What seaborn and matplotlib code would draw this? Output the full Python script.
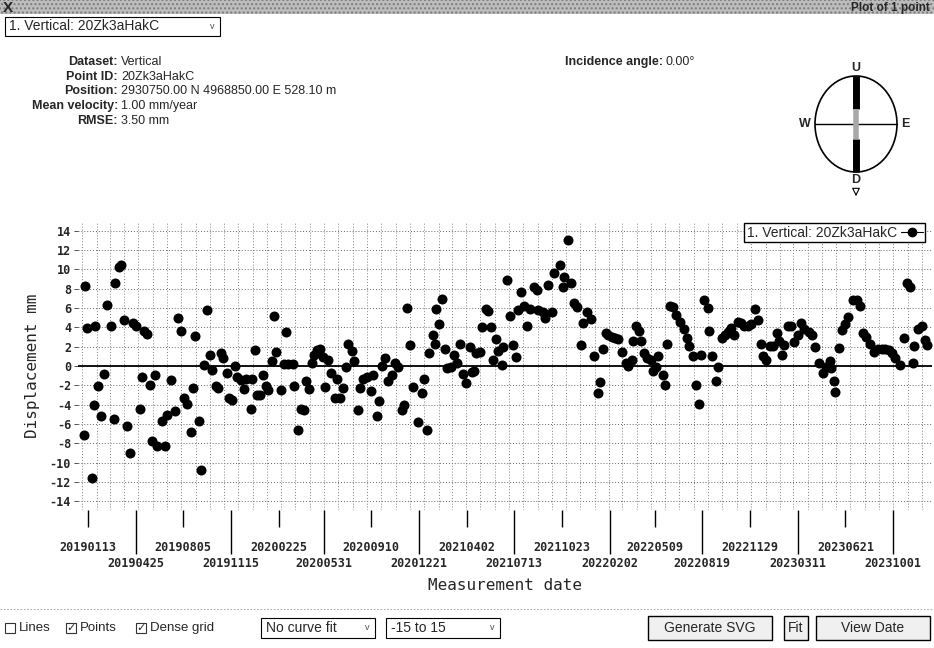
import pandas as pd
import matplotlib
matplotlib.use("Agg")
import matplotlib.pyplot as plt
from matplotlib.lines import Line2D
from matplotlib.patches import Rectangle, Ellipse
import seaborn as sns

# --- Data ---
BASE_DATE = "2019-01-13"
# acquisition dates as day offsets from BASE_DATE
day_offsets = [
    -9, -5, -2, 8, 13, 15, 22, 28, 34, 41,
    49, 56, 59, 67, 70, 78, 84, 91, 97, 103,
    111, 115, 120, 127, 134, 138, 143, 148, 158, 166,
    170, 177, 186, 192, 199, 206, 213, 220, 224, 230,
    237, 242, 248, 254, 261, 266, 274, 279, 284, 289,
    297, 302, 309, 314, 320, 327, 334, 339, 348, 351,
    357, 362, 369, 375, 382, 386, 393, 398, 402, 413,
    419, 424, 428, 438, 441, 450, 456, 462, 466, 473,
    479, 483, 489, 497, 503, 508, 514, 521, 528, 532,
    539, 546, 552, 557, 564, 570, 577, 582, 588, 596,
    605, 610, 618, 623, 630, 635, 642, 650, 657, 664,
    671, 677, 682, 689, 696, 705, 714, 719, 726, 730,
    737, 742, 745, 751, 757, 764, 769, 776, 784, 789,
    796, 803, 808, 817, 821, 826, 831, 838, 842, 851,
    855, 862, 867, 872, 878, 885, 888, 896, 903, 910,
    915, 920, 926, 933, 938, 945, 955, 960, 963, 973,
    978, 985, 993, 997, 1010, 1015, 1019, 1026, 1033, 1039,
    1045, 1054, 1058, 1067, 1075, 1082, 1090, 1095, 1101, 1108,
    1113, 1120, 1127, 1134, 1143, 1151, 1156, 1163, 1166, 1172,
    1179, 1183, 1189, 1196, 1204, 1209, 1215, 1220, 1229, 1234,
    1239, 1245, 1252, 1258, 1266, 1275, 1281, 1286, 1293, 1300,
    1306, 1311, 1318, 1326, 1329, 1334, 1343, 1348, 1355, 1362,
    1368, 1375, 1382, 1390, 1397, 1404, 1411, 1418, 1427, 1432,
    1440, 1444, 1450, 1459, 1466, 1473, 1477, 1484, 1489, 1497,
    1503, 1511, 1518, 1525, 1532, 1541, 1548, 1555, 1564, 1571,
    1579, 1586, 1590, 1595, 1598, 1607, 1613, 1618, 1626, 1636,
    1644, 1650, 1658, 1664, 1673, 1681, 1690, 1698, 1705, 1712,
    1719, 1726, 1737, 1745, 1752, 1757, 1764, 1767, 1776, 1783,
    1790, 1795,
]
displacement_mm = [
    -7.1, 8.3, 3.9, -11.6, -4.0, 4.1, -2.1, -5.2, -0.8, 6.3,
    4.1, -5.5, 8.6, 10.2, 10.4, 4.8, -6.2, -9.0, 4.5, 4.1,
    -4.5, -1.1, 3.6, 3.3, -2.0, -7.8, -0.9, -8.3, -5.7, -8.3,
    -5.1, -1.5, -4.7, 5.0, 3.6, -3.3, -3.9, -6.8, -2.3, 3.1,
    -5.7, -10.8, 0.1, 5.8, 1.1, -0.4, -2.1, -2.3, 1.3, 0.8,
    -0.7, -3.3, -3.5, 0.0, -1.1, -1.5, -2.4, -1.3, -4.4, -1.3,
    1.7, -3.0, -3.0, -0.9, -2.1, -2.5, 0.5, 5.2, 1.4, -2.5,
    0.2, 3.5, 0.2, 0.2, -2.1, -6.6, -4.5, -4.6, -1.6, -2.4,
    0.3, 1.1, 1.7, 1.8, 0.9, -2.2, 0.6, -0.7, -3.3, -1.3,
    -3.3, -2.3, -0.1, 2.3, 1.6, 0.5, -4.6, -2.3, -1.3, -1.1,
    -2.6, -0.9, -5.2, -3.6, 0.0, 0.8, -1.6, -0.9, 0.3, -0.1,
    -4.6, -4.0, 6.0, 2.2, -2.2, -5.8, -2.8, -1.3, -6.6, 1.3,
    3.2, 2.3, 5.9, 4.3, 6.9, 1.8, -0.2, -0.1, 1.1, 0.3,
    2.3, -0.8, -1.8, 2.0, -0.6, -0.5, 1.3, 1.5, 4.0, 5.9,
    5.7, 4.0, 0.6, 2.8, 1.6, 0.1, 2.0, 8.9, 5.2, 2.2,
    0.9, 5.8, 7.7, 6.2, 4.1, 5.9, 8.2, 7.9, 5.8, 5.6,
    5.0, 8.4, 5.6, 9.6, 10.5, 8.2, 9.2, 13.0, 8.6, 6.5,
    6.1, 2.2, 4.4, 5.6, 4.9, 1.0, -2.8, -1.7, 1.8, 3.4,
    3.2, 3.0, 2.9, 2.8, 1.4, 0.3, 0.0, 0.6, 2.6, 4.1,
    3.6, 2.6, 1.3, 0.8, 0.6, -0.5, -0.1, 1.0, -0.9, -2.0,
    2.3, 6.2, 6.1, 5.3, 4.6, 3.8, 2.9, 2.1, 1.0, -2.0,
    -3.9, 1.1, 6.8, 6.0, 3.6, 1.0, -1.6, -0.1, 2.9, 3.2,
    3.5, 3.9, 3.2, 4.6, 4.5, 4.1, 4.1, 4.3, 5.9, 4.8,
    2.3, 1.0, 0.6, 2.1, 2.1, 3.4, 2.6, 1.1, 2.2, 4.1,
    4.1, 2.5, 3.2, 4.4, 3.8, 3.5, 3.2, 2.0, 0.3, -0.7,
    -0.1, 0.5, -0.2, -1.6, -2.7, 1.9, 3.7, 4.3, 5.1, 6.8,
    6.8, 6.2, 3.4, 3.0, 2.3, 1.5, 1.8, 1.8, 1.8, 1.7,
    1.3, 0.8, 0.1, 2.9, 8.6, 8.2, 0.3, 2.1, 3.8, 4.1,
    2.7, 2.2,
]
tick_dates = [
    "20190113", "20190425", "20190805", "20191115", "20200225", "20200531",
    "20200910", "20201221", "20210402", "20210713", "20211023", "20220202",
    "20220509", "20220819", "20221129", "20230311", "20230621", "20231001",
]
ytick_values = list(range(-14, 15, 2))

series_label = "1. Vertical: 20Zk3aHakC"
info_labels = ["Dataset:", "Point ID:", "Position:", "Mean velocity:", "RMSE:"]
info_values = ["Vertical", "20Zk3aHakC", "2930750.00 N 4968850.00 E 528.10 m",
               "1.00 mm/year", "3.50 mm"]

# --- Style ---
sns.set_theme(style="white")
plt.rcParams["font.family"] = ["Liberation Sans", "DejaVu Sans"]
MONO = "DejaVu Sans Mono"

df = pd.DataFrame({
    "date": pd.Timestamp(BASE_DATE) + pd.to_timedelta(day_offsets, unit="D"),
    "disp": displacement_mm,
})
ticks = pd.to_datetime(tick_dates, format="%Y%m%d")

W, H = 934, 648
fig = plt.figure(figsize=(W / 100, H / 100), dpi=100)

# overlay in pixel coordinates for the surrounding UI
ui = fig.add_axes([0, 0, 1, 1])
ui.set_xlim(0, W)
ui.set_ylim(H, 0)
ui.axis("off")

# --- Main plot ---
ax = fig.add_axes([78 / W, 1 - 510 / H, (932 - 78) / W, (510 - 222) / H])
sns.scatterplot(data=df, x="date", y="disp", color="black", s=52,
                linewidth=0, ax=ax, legend=False, zorder=3)

base = pd.Timestamp(BASE_DATE)
x_lo, x_hi = base - pd.Timedelta(days=21), base + pd.Timedelta(days=1805)
ax.set_xlim(x_lo, x_hi)
ax.set_ylim(-14.9, 14.9)

# dense dotted grid
for y in ytick_values:
    ax.axhline(y, color="0.4", lw=0.7, ls=(0, (1, 2)), zorder=1)
for d in pd.date_range(x_lo, x_hi, freq="MS"):
    ax.axvline(d, color="0.5", lw=0.7, ls=(0, (1, 2)), zorder=1)
ax.axhline(0, color="black", lw=1.3, zorder=2)

for s in ax.spines.values():
    s.set_visible(False)

ax.set_yticks(ytick_values)
ax.set_yticklabels([str(v) for v in ytick_values], fontfamily=MONO,
                   fontweight="bold", fontsize=8.5)
ax.tick_params(axis="y", left=True, length=3, width=0.7, pad=2, color="0.3")

ax.set_xticks(ticks[::2])
ax.set_xticklabels(tick_dates[::2], fontfamily=MONO, fontweight="bold", fontsize=8.5)
ax.set_xticks(ticks[1::2], minor=True)
ax.set_xticklabels(tick_dates[1::2], minor=True, fontfamily=MONO,
                   fontweight="bold", fontsize=8.5)
ax.tick_params(axis="x", which="major", bottom=True, length=12, width=1,
               pad=10, color="black", direction="out")
ax.tick_params(axis="x", which="minor", bottom=True, length=32, width=1,
               pad=2, color="black", direction="out")

ax.set_xlabel("Measurement date", fontfamily=MONO, fontsize=11.5)
ax.xaxis.set_label_coords(0.5, -0.235)
ax.set_ylabel("Displacement mm", fontfamily=MONO, fontsize=11.5)
ax.yaxis.set_label_coords(-0.045, 0.5)

handle = Line2D([], [], color="black", marker="o", markersize=6, lw=0.8)
leg = ax.legend([handle], [series_label], loc="upper right",
                bbox_to_anchor=(0.992, 0.995), markerfirst=False, fancybox=False,
                framealpha=1, edgecolor="black", borderpad=0.15, borderaxespad=0,
                handlelength=1.6, handletextpad=0.3, fontsize=10)
leg.get_frame().set_linewidth(1.0)

# --- Surrounding UI ---
ui.add_patch(Rectangle((0, 0), W, 14, facecolor="#bdbdbd", edgecolor="#7c7c7c",
                       hatch="....", lw=0))
ui.text(3, 7.5, "X", fontsize=11, fontweight="bold", va="center")
ui.text(930, 7.5, "Plot of 1 point", fontsize=8.5, fontweight="bold",
        va="center", ha="right")

ui.add_patch(Rectangle((5, 17), 215, 19, fill=False, ec="black", lw=0.8))
ui.text(9, 26.5, series_label, fontsize=10, va="center")
ui.text(212, 26.5, "v", fontsize=6.5, va="center", ha="center", color="0.3")

for i, (lab, val) in enumerate(zip(info_labels, info_values)):
    y = 62 + 14.7 * i
    ui.text(118, y, lab, fontsize=9, fontweight="bold", ha="right", va="center")
    ui.text(121, y, val, fontsize=9, ha="left", va="center")

ui.text(565, 62, "Incidence angle:", fontsize=9, fontweight="bold", va="center")
ui.text(666, 62, "0.00°", fontsize=9, va="center")

# compass
cx, cy = 856, 124
ui.add_patch(Ellipse((cx, cy), 82, 96, fill=False, ec="black", lw=1.2))
ui.plot([cx - 41, cx + 41], [cy, cy], color="black", lw=1)
ui.plot([cx, cx], [cy - 48, cy - 15], color="black", lw=5, solid_capstyle="butt")
ui.plot([cx, cx], [cy - 15, cy + 15], color="#a8a8a8", lw=4, solid_capstyle="butt")
ui.plot([cx, cx], [cy + 15, cy + 48], color="black", lw=5, solid_capstyle="butt")
ui.text(cx, cy - 50, "U", fontsize=9, fontweight="bold", ha="center", va="bottom")
ui.text(cx, cy + 50, "D", fontsize=9, fontweight="bold", ha="center", va="top")
ui.text(cx - 45, cy, "W", fontsize=9, fontweight="bold", ha="right", va="center")
ui.text(cx + 45, cy, "E", fontsize=9, fontweight="bold", ha="left", va="center")
ui.annotate("", xy=(cx, cy + 75), xytext=(cx, cy + 62),
            arrowprops=dict(arrowstyle="-|>", color="black", lw=0.8, fc="white"))

# bottom controls
ui.plot([0, W], [609, 609], color="0.6", lw=0.6, ls=(0, (2, 2)))
for x0, lab, checked in [(5, "Lines", False), (66, "Points", True), (136, "Dense grid", True)]:
    ui.add_patch(Rectangle((x0, 623), 10, 10, fill=False, ec="0.2", lw=0.8))
    if checked:
        ui.text(x0 + 5, 628, "✓", fontsize=8, ha="center", va="center",
                family=["DejaVu Sans"])
    ui.text(x0 + 14, 628, lab, fontsize=9.5, va="center")

for x0, x1, lab in [(261, 375, "No curve fit"), (386, 500, "-15 to 15")]:
    ui.add_patch(Rectangle((x0, 618), x1 - x0, 20, fill=False, ec="black", lw=0.8))
    ui.text(x0 + 5, 628, lab, fontsize=10, va="center")
    ui.text(x1 - 8, 628, "v", fontsize=6.5, va="center", ha="center", color="0.3")

for x0, x1, lab in [(648, 772, "Generate SVG"), (784, 808, "Fit"), (816, 930, "View Date")]:
    ui.add_patch(Rectangle((x0, 616), x1 - x0, 24, facecolor="#f0f0f0",
                           ec="black", lw=1.0))
    ui.text((x0 + x1) / 2, 628, lab, fontsize=10, va="center", ha="center")

fig.savefig("out.png", dpi=100)
